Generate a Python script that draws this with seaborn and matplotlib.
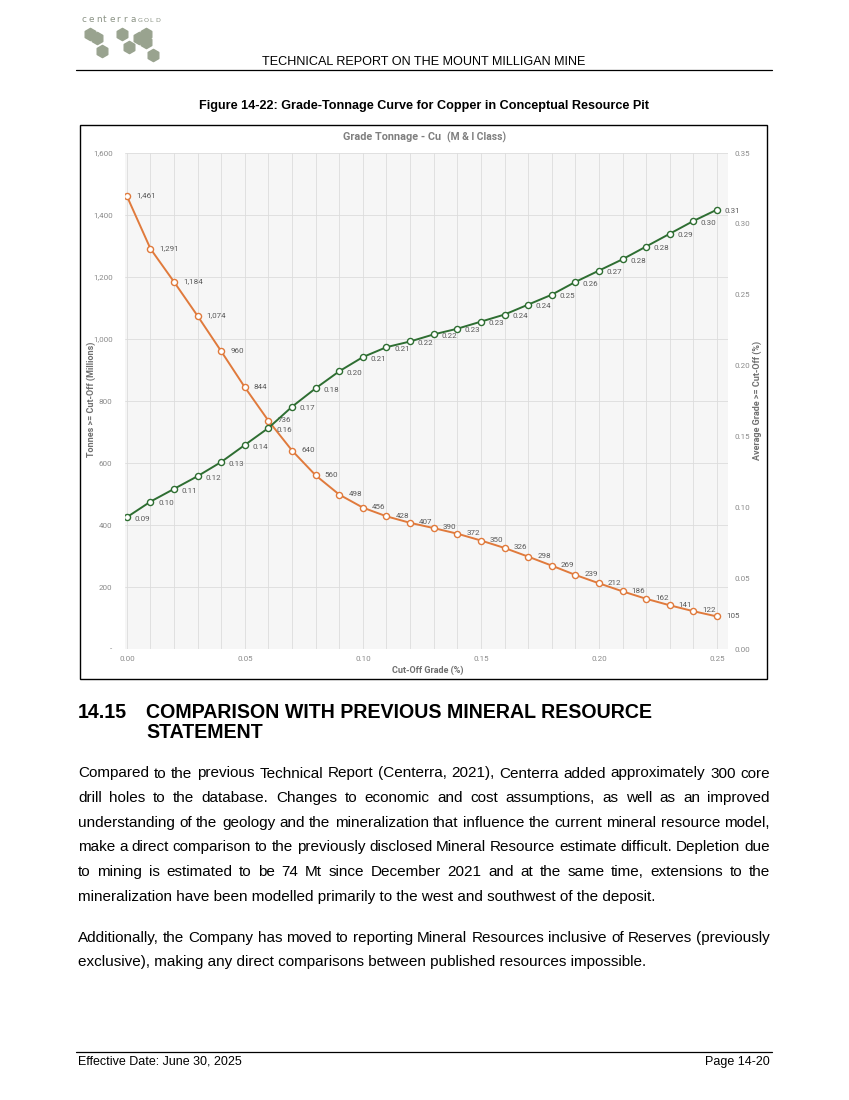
import numpy as np
import seaborn as sns
import matplotlib.pyplot as plt
from matplotlib.patches import Rectangle

sns.set_style("white")
plt.rcParams['font.family'] = ['Liberation Sans', 'DejaVu Sans']
plt.rcParams['text.color'] = 'black'
plt.rcParams['hatch.color'] = '#e4e4e4'
plt.rcParams['hatch.linewidth'] = 0.4

cutoff = [0.00, 0.01, 0.02, 0.03, 0.04, 0.05, 0.06, 0.07, 0.08, 0.09, 0.10, 0.11, 0.12,
          0.13, 0.14, 0.15, 0.16, 0.17, 0.18, 0.19, 0.20, 0.21, 0.22, 0.23, 0.24, 0.25]
tonnes = [1461, 1291, 1184, 1074, 960, 844, 736, 640, 560, 498, 456, 428, 407,
          390, 372, 350, 326, 298, 269, 239, 212, 186, 162, 141, 122, 105]
grade = [0.093, 0.104, 0.113, 0.122, 0.132, 0.144, 0.156, 0.171, 0.184, 0.196, 0.206, 0.213, 0.217,
         0.222, 0.226, 0.231, 0.236, 0.243, 0.250, 0.259, 0.267, 0.275, 0.284, 0.293, 0.302, 0.310]

header = "TECHNICAL REPORT ON THE MOUNT MILLIGAN MINE"
caption = "Figure 14-22: Grade-Tonnage Curve for Copper in Conceptual Resource Pit"
para1 = [
    "Compared to the previous Technical Report (Centerra, 2021), Centerra added approximately 300 core",
    "drill holes to the database. Changes to economic and cost assumptions, as well as an improved",
    "understanding of the geology and the mineralization that influence the current mineral resource model,",
    "make a direct comparison to the previously disclosed Mineral Resource estimate difficult. Depletion due",
    "to mining is estimated to be 74 Mt since December 2021 and at the same time, extensions to the",
    "mineralization have been modelled primarily to the west and southwest of the deposit.",
]
para2 = [
    "Additionally, the Company has moved to reporting Mineral Resources inclusive of Reserves (previously",
    "exclusive), making any direct comparisons between published resources impossible.",
]

W, H = 849, 1100
fig = plt.figure(figsize=(W / 100, H / 100), dpi=100)
page = fig.add_axes([0, 0, 1, 1])
page.set_xlim(0, W)
page.set_ylim(H, 0)
page.axis('off')

# logo
logo_green = '#99a38f'
hx = [90, 97, 102, 122, 129, 139, 146, 146, 153]
hy = [34, 38, 51, 34, 47, 38, 34, 42, 55]
page.scatter(hx, hy, marker='h', s=78, color=logo_green, zorder=3)
for i, ch in enumerate("centerra"):
    page.text(82 + i * 6.9, 20, ch, fontsize=6.4, color='#8a9284', va='center', ha='left',
              family='DejaVu Sans')
for i, ch in enumerate("GOLD"):
    page.text(138 + i * 5.8, 20.5, ch, fontsize=4.6, color='#8a9284', va='center', ha='left',
              family='DejaVu Sans')

# header / caption
page.text(424, 62, header, fontsize=9.05, ha='center', va='center')
page.plot([76, 772], [70, 70], color='black', lw=0.9)
page.text(424, 106, caption, fontsize=9.1, ha='center', va='center', fontweight='bold')

# chart frame
page.add_patch(Rectangle((80, 125), 687, 554, fill=False, ec='black', lw=1.0, zorder=5))
chart_font = ['Roboto', 'DejaVu Sans']
page.text(441, 137, "Grade Tonnage - Cu", fontsize=7.8, ha='right', va='center',
          fontweight='bold', color='#7f7f7f', family=chart_font)
page.text(447, 137.5, "(M & I Class)", fontsize=7.4, ha='left', va='center',
          fontweight='bold', color='#7f7f7f', family=chart_font)

orange = '#e07a3c'
green = '#2e6e32'
tick_col = '#8a8a8a'
lab_col = '#5a5a5a'
tsize = 5.8

x0, x1, y0, y1 = 125, 728, 153, 649
ax = fig.add_axes([x0 / W, 1 - y1 / H, (x1 - x0) / W, (y1 - y0) / H])
ax.set_facecolor('#f6f6f6')
ax.patch.set_hatch('//////')
ax.set_xlim(-0.0008, 0.2547)
ax.set_ylim(0, 1600)
ax.set_xticks(np.arange(0, 0.2501, 0.05))
ax.set_xticks(cutoff, minor=True)
ax.set_yticks(np.arange(0, 1601, 200))
ax.set_yticklabels(['-'] + [f"{v:,}" for v in range(200, 1601, 200)])
ax.set_xticklabels([f"{v:.2f}" for v in np.arange(0, 0.2501, 0.05)])
ax.grid(True, which='both', axis='x', color='#dcdcdc', lw=0.6)
ax.grid(True, which='major', axis='y', color='#dcdcdc', lw=0.6)
ax.set_axisbelow(True)
for s in ax.spines.values():
    s.set_visible(False)
ax.tick_params(axis='y', which='both', length=0, labelsize=tsize, colors=tick_col, pad=9)
ax.tick_params(axis='x', which='both', length=0, labelsize=tsize, colors=tick_col, pad=5)
for t in ax.get_xticklabels() + ax.get_yticklabels():
    t.set_family(chart_font)

sns.lineplot(x=cutoff, y=tonnes, ax=ax, color=orange, lw=1.4, marker='o', markersize=4.4,
             markerfacecolor='white', markeredgecolor=orange, markeredgewidth=1.0)
for xv, yv in zip(cutoff, tonnes):
    ax.annotate(f"{yv:,}", (xv, yv), xytext=(6.5, 0.5), textcoords='offset points',
                fontsize=tsize, color=lab_col, va='center', ha='left', family=chart_font)

ax2 = ax.twinx()
ax2.set_ylim(0, 0.35)
ax2.set_yticks(np.arange(0, 0.351, 0.05))
ax2.set_yticklabels([f"{v:.2f}" for v in np.arange(0, 0.351, 0.05)])
for s in ax2.spines.values():
    s.set_visible(False)
ax2.tick_params(axis='y', length=0, labelsize=tsize, colors=tick_col, pad=5)
for t in ax2.get_yticklabels():
    t.set_family(chart_font)
sns.lineplot(x=cutoff, y=grade, ax=ax2, color=green, lw=1.4, marker='o', markersize=4.4,
             markerfacecolor='white', markeredgecolor=green, markeredgewidth=1.0)
for xv, yv in zip(cutoff, grade):
    ax2.annotate(f"{yv:.2f}", (xv, yv), xytext=(5.5, -1.2), textcoords='offset points',
                 fontsize=tsize, color=lab_col, va='center', ha='left', family=chart_font)

page.text(428, 670, "Cut-Off Grade (%)", fontsize=6.5, ha='center', va='center',
          fontweight='bold', color='#6f6f6f', family=chart_font)
page.text(91, 399, "Tonnes >= Cut-Off (Millions)", fontsize=6.5, ha='center', va='center',
          rotation=90, fontweight='bold', color='#6f6f6f', family=chart_font)
page.text(757, 400, "Average Grade >= Cut-Off (%)", fontsize=6.5, ha='center', va='center',
          rotation=90, fontweight='bold', color='#6f6f6f', family=chart_font)

# section heading
hsize = 14.1
page.text(78, 712, "14.15", fontsize=hsize, fontweight='bold', ha='left', va='center')
page.text(146, 712, "COMPARISON WITH PREVIOUS MINERAL RESOURCE", fontsize=hsize,
          fontweight='bold', ha='left', va='center')
page.text(146, 733, "STATEMENT", fontsize=hsize, fontweight='bold', ha='left', va='center')

renderer = fig.canvas.get_renderer()


def justify(lines, ytop, dy, left=78, right=770, size=11.0):
    for i, line in enumerate(lines):
        y = ytop + i * dy
        if i == len(lines) - 1:
            page.text(left, y, line, fontsize=size, ha='left', va='center')
            continue
        words = line.split()
        ts = [page.text(0, y, w, fontsize=size, ha='left', va='center') for w in words]
        widths = [t.get_window_extent(renderer).width for t in ts]
        gap = (right - left - sum(widths)) / (len(words) - 1)
        xx = left
        for t, w in zip(ts, widths):
            t.set_x(xx)
            xx += w + gap


justify(para1, 773.5, 24.65)
justify(para2, 938, 24.0)

# footer
page.plot([76, 772], [1052, 1052], color='black', lw=0.9)
page.text(78, 1061.5, "Effective Date: June 30, 2025", fontsize=9, ha='left', va='center')
page.text(770, 1061.5, "Page 14-20", fontsize=9, ha='right', va='center')

fig.savefig("out.png", dpi=100)
